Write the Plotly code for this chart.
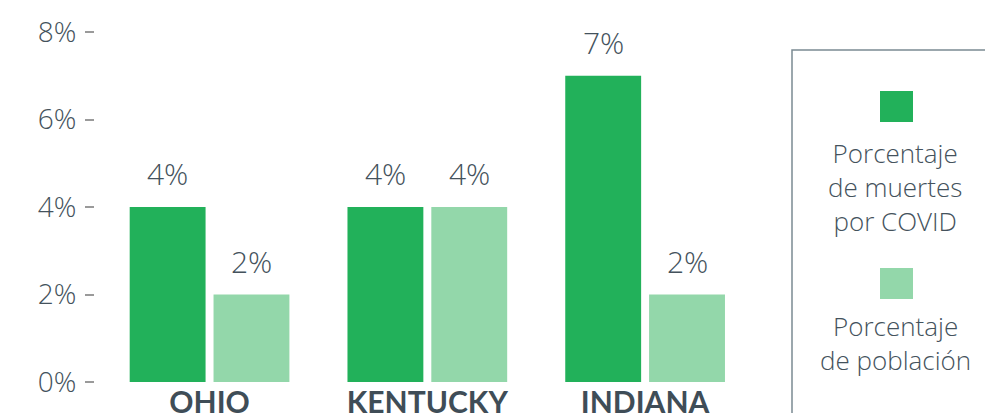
import plotly.graph_objects as go

# ---- data ----
states = ["OHIO", "KENTUCKY", "INDIANA"]
covid_deaths_pct = [4, 4, 7]
population_pct = [2, 4, 2]
series_names = ["Porcentaje<br>de muertes<br>por COVID", "Porcentaje<br>de población"]
y_tick_values = [0, 2, 4, 6, 8]
y_tick_labels = ["0%", "2%", "4%", "6%", "8%"]

# ---- style ----
W, H = 993, 413
OFF = 8  # page body margin: figure is drawn 8px right/down in the window
# target screen positions of plot area: left 95, right 754, top 32, bottom 382
L = 95 - OFF
T = 32 - OFF
PW = 754 - 95
PH = 382 - 32
R = W - L - PW
B = H - T - PH
colors = ["#22b15a", "#93d7aa"]
text_color = "#44525c"
cat_color = "#3f4d57"
num_font = "Open Sans, sans-serif"
num_weight = 350
bargap, bargroupgap = 0.23, 0.095

series_values = [covid_deaths_pct, population_pct]

fig = go.Figure()
for name, vals, col in zip(series_names, series_values, colors):
    fig.add_trace(go.Bar(x=states, y=vals, name=name, marker_color=col,
                         marker_line_width=0, showlegend=False,
                         hoverinfo="skip"))

# value labels above bars
slot = (1 - bargap) / 2
annotations = []
for si, vals in enumerate(series_values):
    for ci, v in enumerate(vals):
        annotations.append(dict(
            x=ci + (si - 0.5) * slot, y=v, xref="x", yref="y",
            text=f"{v}%", showarrow=False, yanchor="bottom", yshift=11,
            font=dict(size=30, color=text_color, family=num_font, weight=num_weight)))

def px_x(p):  # screen px -> paper
    return (p - 95) / PW

def px_y(p):
    return (382 - p) / PH

# custom legend
shapes = [dict(type="rect", xref="paper", yref="paper",
               x0=px_x(792), x1=px_x(1100), y0=px_y(450), y1=px_y(50),
               line=dict(color="#7b8a93", width=1.5), fillcolor="rgba(0,0,0,0)")]
legend_boxes = [(91, 122), (268, 299)]
legend_text_centers = [187, 343]
for (yt, yb), yc, name, col in zip(legend_boxes, legend_text_centers, series_names, colors):
    shapes.append(dict(type="rect", xref="paper", yref="paper",
                       x0=px_x(880), x1=px_x(913), y0=px_y(yb), y1=px_y(yt),
                       line=dict(width=0), fillcolor=col))
    annotations.append(dict(x=px_x(895), y=px_y(yc), xref="paper", yref="paper",
                            text=name, showarrow=False, xanchor="center", yanchor="middle",
                            align="center",
                            font=dict(size=26, color=text_color, family=num_font, weight=num_weight)))

fig.update_layout(
    width=W, height=H,
    margin=dict(l=L, r=R, t=T, b=B, pad=0, autoexpand=False),
    paper_bgcolor="white", plot_bgcolor="white",
    barmode="group", bargap=bargap, bargroupgap=bargroupgap,
    font=dict(family=num_font, color=text_color),
    annotations=annotations, shapes=shapes,
    xaxis=dict(range=[-0.526, 2.5], showgrid=False, zeroline=False, showline=False,
               automargin=False, ticks="",
               tickfont=dict(size=30, color=cat_color, family="Lato, sans-serif", weight="bold"),
               fixedrange=True),
    yaxis=dict(range=[0, 8], tickvals=y_tick_values, ticktext=y_tick_labels,
               automargin=False, showgrid=False, zeroline=False, showline=False,
               ticks="outside", ticklen=9, tickwidth=1.5, tickcolor="#9a9a9a",
               ticklabelstandoff=3,
               tickfont=dict(size=28, color=text_color, family=num_font, weight=num_weight),
               fixedrange=True),
)

fig.write_html("out.html")
